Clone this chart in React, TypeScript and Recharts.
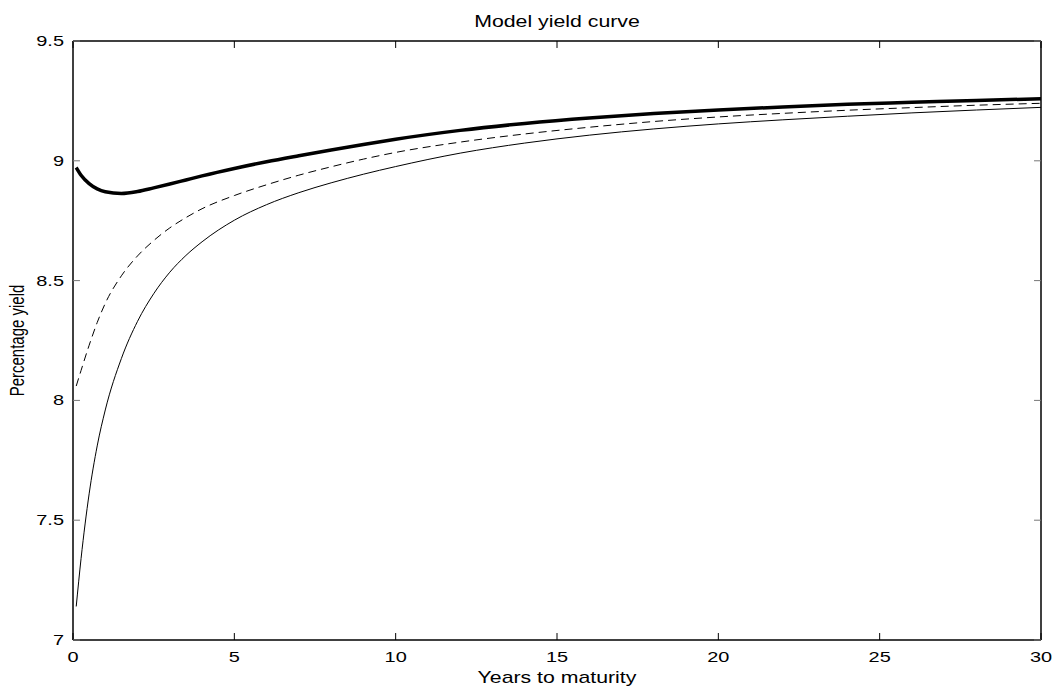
import React from "react";
import { LineChart, Line, XAxis, YAxis } from "recharts";

const maturities = [0.1, 0.25, 0.5, 0.75, 1, 1.5, 2, 2.5, 3, 3.5, 4, 5, 6, 7, 8, 9, 10, 12, 14, 16, 18, 20, 22, 24, 26, 28, 30];
const thickCurve = [8.972, 8.94, 8.905, 8.883, 8.871, 8.864, 8.872, 8.887, 8.903, 8.92, 8.937, 8.968, 8.996, 9.021, 9.045, 9.068, 9.09, 9.127, 9.156, 9.179, 9.197, 9.212, 9.225, 9.236, 9.244, 9.252, 9.259];
const dashedCurve = [8.06, 8.125, 8.23, 8.325, 8.405, 8.52, 8.603, 8.667, 8.72, 8.763, 8.8, 8.855, 8.9, 8.94, 8.975, 9.007, 9.035, 9.078, 9.112, 9.14, 9.164, 9.183, 9.198, 9.211, 9.222, 9.232, 9.24];
const solidCurve = [7.14, 7.34, 7.61, 7.81, 7.96, 8.175, 8.33, 8.445, 8.535, 8.605, 8.662, 8.752, 8.817, 8.867, 8.908, 8.944, 8.976, 9.032, 9.074, 9.107, 9.133, 9.154, 9.171, 9.186, 9.2, 9.212, 9.223];
const xTicks = [0, 5, 10, 15, 20, 25, 30];
const yTicks = [7, 7.5, 8, 8.5, 9, 9.5];
const titleText = "Model yield curve";
const xLabelText = "Years to maturity";
const yLabelText = "Percentage yield";

const data = maturities.map((t, i) => ({ t, thick: thickCurve[i], dashed: dashedCurve[i], solid: solidCurve[i] }));

const FONT = "'Liberation Sans', Arial, Helvetica, sans-serif";
const SX = 1.33;
const TS = 0.01;

const BottomTick = (props: any) => {
  const { x, y, payload } = props;
  return (
    <g>
      <line x1={x} y1={y} x2={x} y2={y - 7} stroke="#000" strokeWidth={1} />
      <text transform={`translate(${x},${y + 22}) scale(${SX},1)`} textAnchor="middle" fontSize={15} fontFamily={FONT} fill="#000">
        {payload.value}
      </text>
    </g>
  );
};

const TopTick = (props: any) => {
  const { x, y } = props;
  return <line x1={x} y1={y} x2={x} y2={y + 7} stroke="#000" strokeWidth={1} />;
};

const LeftTick = (props: any) => {
  const { x, y, payload } = props;
  return (
    <g>
      <line x1={x} y1={y} x2={x + 7} y2={y} stroke="#777" strokeWidth={1} />
      <text transform={`translate(${x - 9},${y + 5}) scale(${SX},1)`} textAnchor="end" fontSize={15} fontFamily={FONT} fill="#000">
        {payload.value}
      </text>
    </g>
  );
};

const RightTick = (props: any) => {
  const { x, y } = props;
  return <line x1={x} y1={y} x2={x - 7} y2={y} stroke="#777" strokeWidth={1} />;
};

const XLabel = (props: any) => {
  const vb = props.viewBox || {};
  const cx = vb.x + vb.width / 2;
  return (
    <text transform={`translate(${cx},${vb.y + 43}) scale(${SX},1)`} textAnchor="middle" fontSize={16} fontFamily={FONT} fill="#000">
      {xLabelText}
    </text>
  );
};

const YLabel = (props: any) => {
  const vb = props.viewBox || {};
  const cy = vb.y + vb.height / 2;
  return (
    <text transform={`translate(24,${cy}) scale(${SX},1) rotate(-90)`} textAnchor="middle" fontSize={15} fontFamily={FONT} fill="#000">
      {yLabelText}
    </text>
  );
};

export default function App() {
  return (
    <div style={{ position: "absolute", left: 0, top: 0, width: 1053, height: 687, background: "#fff" }}>
      <div
        style={{
          position: "absolute",
          left: 557,
          top: 13.5,
          transform: `translateX(-50%) scaleX(${SX})`,
          fontFamily: FONT,
          fontSize: 16,
          lineHeight: "16px",
          whiteSpace: "nowrap",
          color: "#000",
        }}
      >
        {titleText}
      </div>
      <LineChart width={1053} height={687} data={data} margin={{ top: 40, right: 11, bottom: 17, left: 0 }}>
        <XAxis
          dataKey="t"
          type="number"
          domain={[0, 30]}
          ticks={xTicks}
          height={30}
          tickSize={TS}
          tickMargin={TS}
          tickLine={false}
          tick={<BottomTick />}
          axisLine={{ stroke: "#000", strokeWidth: 1.5 }}
          label={{ content: <XLabel /> }}
          interval={0}
        />
        <XAxis
          xAxisId="top"
          orientation="top"
          dataKey="t"
          type="number"
          domain={[0, 30]}
          ticks={xTicks}
          height={1}
          tickSize={TS}
          tickMargin={TS}
          tickLine={false}
          tick={<TopTick />}
          axisLine={{ stroke: "#000", strokeWidth: 1.5 }}
          interval={0}
        />
        <YAxis
          type="number"
          domain={[7, 9.5]}
          ticks={yTicks}
          width={73}
          tickSize={TS}
          tickMargin={TS}
          tickLine={false}
          tick={<LeftTick />}
          axisLine={{ stroke: "#000", strokeWidth: 1.5 }}
          label={{ content: <YLabel /> }}
          interval={0}
          allowDataOverflow
        />
        <YAxis
          yAxisId="right"
          orientation="right"
          type="number"
          domain={[7, 9.5]}
          ticks={yTicks}
          width={1}
          tickSize={TS}
          tickMargin={TS}
          tickLine={false}
          tick={<RightTick />}
          axisLine={{ stroke: "#000", strokeWidth: 1.5 }}
          interval={0}
          allowDataOverflow
        />
        <Line dataKey="solid" type="monotone" stroke="#000" strokeWidth={1} dot={false} isAnimationActive={false} />
        <Line dataKey="dashed" type="monotone" stroke="#000" strokeWidth={1} strokeDasharray="8 5" dot={false} isAnimationActive={false} />
        <Line dataKey="thick" type="monotone" stroke="#000" strokeWidth={3.5} dot={false} isAnimationActive={false} />
      </LineChart>
    </div>
  );
}
